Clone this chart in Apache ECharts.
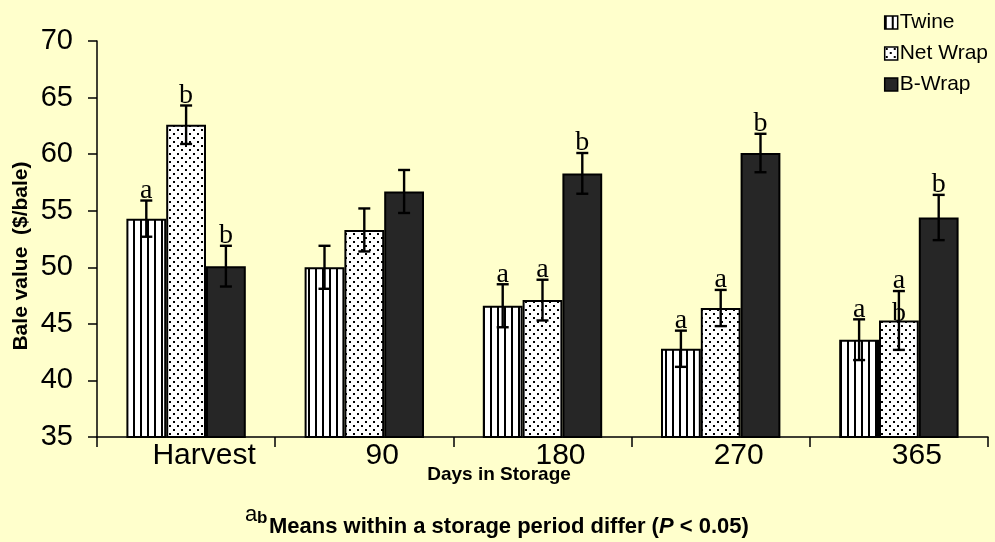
<!DOCTYPE html>
<html><head><meta charset="utf-8">
<script src="https://cdn.jsdelivr.net/npm/echarts@6/dist/echarts.min.js"></script>
<style>html,body{margin:0;padding:0;background:#FFFFCC}#c{width:995px;height:542px}</style>
</head><body><div id="c"></div>
<script>
// ---- data ----
const categories = ['Harvest', '90', '180', '270', '365'];
const seriesNames = ['Twine', 'Net Wrap', 'B-Wrap'];
const twine = [54.3, 50.0, 46.6, 42.8, 43.6];
const netWrap = [62.6, 53.3, 47.1, 46.4, 45.3];
const bWrap = [50.1, 56.7, 58.3, 60.1, 54.4];
const twineErr = [1.6, 1.9, 1.9, 1.6, 1.8];
const netWrapErr = [1.7, 1.9, 1.8, 1.6, 2.6];
const bWrapErr = [1.8, 1.9, 1.8, 1.7, 2.0];
const twineLetters = ['a', '', 'a', 'a', 'a'];
const netWrapLetters = ['b', '', 'a', 'a', 'a'];
const bWrapLetters = ['b', '', 'b', 'b', 'b'];
const netWrapBarTopLetters = ['', '', '', '', 'b'];
const yMin = 35, yMax = 70, yStep = 5;
const xAxisTitle = 'Days in Storage';
const yAxisTitle = 'Bale value  ($/bale)';

// ---- patterns ----
function makeStripes() {
  const c = document.createElement('canvas'); c.width = 7; c.height = 7;
  const g = c.getContext('2d');
  g.fillStyle = '#ffffff'; g.fillRect(0, 0, 7, 7);
  g.fillStyle = '#000000'; g.fillRect(0, 0, 2, 7);
  return c;
}
function makeDots() {
  const c = document.createElement('canvas'); c.width = 8; c.height = 8;
  const g = c.getContext('2d');
  g.fillStyle = '#ffffff'; g.fillRect(0, 0, 8, 8);
  g.fillStyle = '#000000'; g.fillRect(1, 1, 2, 2); g.fillRect(5, 5, 2, 2);
  return c;
}
const fills = [
  { image: makeStripes(), repeat: 'repeat' },
  { image: makeDots(), repeat: 'repeat' },
  '#262626'
];
const values = [twine, netWrap, bWrap];
const errs = [twineErr, netWrapErr, bWrapErr];
const letters = [twineLetters, netWrapLetters, bWrapLetters];
const GAP = 0.33;
const LETTER_FONT = '28px "Liberation Serif", "Times New Roman", serif';

const chart = echarts.init(document.getElementById('c'));
const series = [];
seriesNames.forEach((name, k) => {
  series.push({
    name: name, type: 'bar', data: values[k],
    barGap: '0%', barCategoryGap: (GAP * 100) + '%',
    itemStyle: { color: fills[k], borderColor: '#000', borderWidth: 2 },
    emphasis: { disabled: true }
  });
});
seriesNames.forEach((name, k) => {
  series.push({
    type: 'custom', name: name + '_err', z: 5,
    data: values[k].map((v, i) => [i, v, errs[k][i]]),
    encode: { x: 0, y: 1 },
    renderItem: function (params, api) {
      const i = api.value(0), v = api.value(1), e = api.value(2);
      const band = api.size([1, 0])[0];
      const bw = band * (1 - GAP) / 3;
      const top = api.coord([i, v + e]);
      const bot = api.coord([i, v - e]);
      const barTop = api.coord([i, v]);
      const x = top[0] + (k - 1) * bw;
      const cap = 6;
      const st = { stroke: '#000', lineWidth: 2.4 };
      const children = [
        { type: 'line', shape: { x1: x, y1: top[1], x2: x, y2: bot[1] }, style: st },
        { type: 'line', shape: { x1: x - cap, y1: top[1], x2: x + cap, y2: top[1] }, style: st },
        { type: 'line', shape: { x1: x - cap, y1: bot[1], x2: x + cap, y2: bot[1] }, style: st }
      ];
      const L = letters[k][params.dataIndex];
      if (L) children.push({ type: 'text', x: x, y: top[1] + 4, style: { text: L, fill: '#000', font: LETTER_FONT, textAlign: 'center', textVerticalAlign: 'bottom' } });
      if (k === 1 && netWrapBarTopLetters[params.dataIndex]) children.push({ type: 'text', x: x, y: barTop[1] + 7, style: { text: netWrapBarTopLetters[params.dataIndex], fill: '#000', font: LETTER_FONT, textAlign: 'center', textVerticalAlign: 'bottom' } });
      return { type: 'group', children: children };
    }
  });
});

chart.setOption({
  backgroundColor: '#FFFFCC',
  animation: false,
  textStyle: { fontFamily: '"Liberation Sans", Arial, sans-serif' },
  grid: { left: 97, right: 7, top: 41, bottom: 105, containLabel: false },
  legend: {
    data: seriesNames, orient: 'vertical', right: 2, top: 7,
    itemWidth: 13, itemHeight: 13, itemGap: 10, icon: 'rect',
    itemStyle: { borderWidth: 1.5, borderColor: '#000' },
    textStyle: { fontSize: 21, color: '#000', padding: [0, 0, 0, -3] }
  },
  xAxis: {
    type: 'category', data: categories,
    axisLine: { lineStyle: { color: '#000', width: 1.5 } },
    axisTick: { show: true, length: 10, lineStyle: { color: '#000', width: 1.5 } },
    axisLabel: { fontSize: 30, color: '#000', margin: 4, padding: [0, 0, 0, 36] }
  },
  yAxis: {
    type: 'value', min: yMin, max: yMax, interval: yStep,
    axisLine: { show: true, lineStyle: { color: '#000', width: 1.5 } },
    axisTick: { show: true, length: 9, lineStyle: { color: '#000', width: 1.5 } },
    splitLine: { show: false },
    axisLabel: { fontSize: 29, color: '#000', margin: 24 }
  },
  graphic: [
    { type: 'text', x: 21, y: 256, rotation: Math.PI / 2, style: { text: yAxisTitle, font: 'bold 21px "Liberation Sans", Arial, sans-serif', fill: '#000', textAlign: 'center', textVerticalAlign: 'middle' } },
    { type: 'text', x: 499, y: 475, style: { text: xAxisTitle, font: 'bold 19px "Liberation Sans", Arial, sans-serif', fill: '#000', textAlign: 'center', textVerticalAlign: 'middle' } },
    { type: 'text', x: 245, y: 504, style: { text: 'a', font: '22px "Liberation Sans", Arial, sans-serif', fill: '#000', textAlign: 'left', textVerticalAlign: 'top' } },
    { type: 'text', x: 257, y: 510, style: { text: 'b', font: 'bold 17px "Liberation Sans", Arial, sans-serif', fill: '#000', textAlign: 'left', textVerticalAlign: 'top' } },
    { type: 'text', x: 269, y: 527, style: {
        text: '{m|Means within a storage period differ (}{i|P}{m| < 0.05)}', textAlign: 'left', textVerticalAlign: 'middle',
        rich: {
          m: { fontSize: 22, fontWeight: 'bold', color: '#000', fontFamily: '"Liberation Sans", Arial, sans-serif' },
          i: { fontStyle: 'italic', fontWeight: 'bold', fontSize: 22, color: '#000', fontFamily: '"Liberation Sans", Arial, sans-serif' }
        } } }
  ],
  series: series
});
</script></body></html>
